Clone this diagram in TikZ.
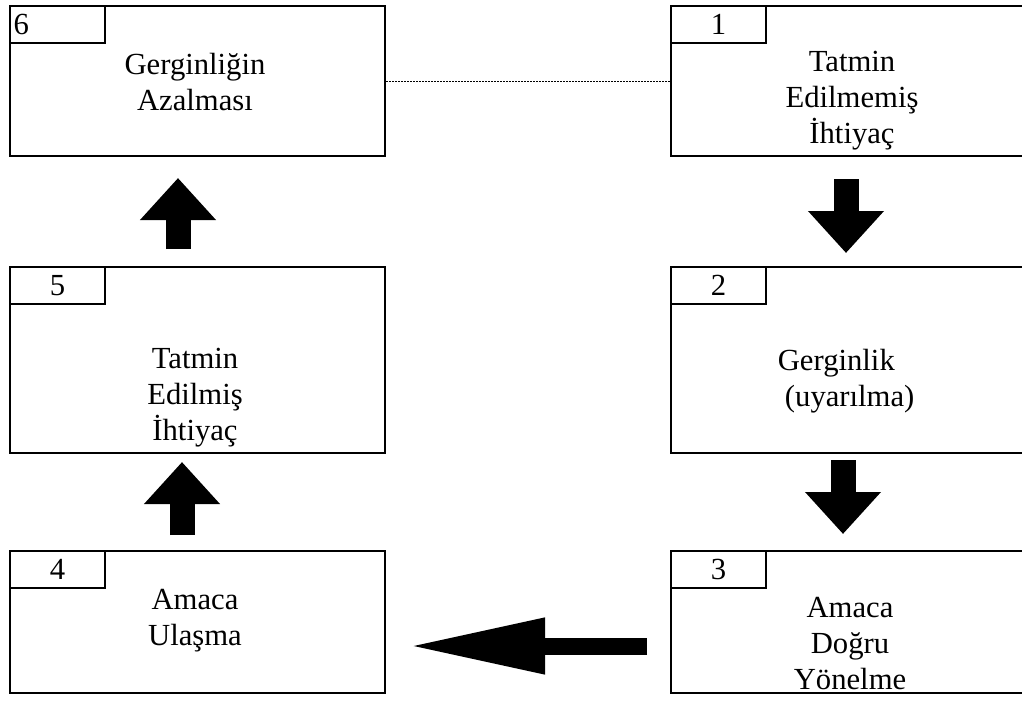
\documentclass[tikz,border=0pt]{standalone}
\usepackage{fontspec}
\setmainfont{Liberation Serif}
\usetikzlibrary{arrows.meta}

\tikzset{
  box/.style={draw, line width=1.6pt, anchor=north west, minimum width=281.25pt, inner sep=0pt},
  tab/.style={draw, line width=1.6pt, anchor=north west, minimum width=71.25pt, minimum height=27.75pt, inner sep=0pt},
  txt/.style={align=center, font=\fontsize{23pt}{27pt}\selectfont},
  blockarrow/.style n args={3}{line width=#1, -{Triangle[length=#2, width=#3]}}
}

\begin{document}
\begin{tikzpicture}[x=0.75pt, y=-0.75pt]
                \useasboundingbox (0,0) rectangle (1022,704);
                \clip (0,0) rectangle (1022,704);

                % Left column of boxes
                \node[box, minimum height=112.5pt] (b6) at (9,5) {};
                \node[box, minimum height=139.5pt] (b5) at (9,266) {};
                \node[box, minimum height=106.5pt] (b4) at (9,550) {};

                % Right column of boxes (cut by the page edge)
                \node[box, minimum width=277.5pt, minimum height=112.5pt] (b1) at (670,5) {};
                \node[box, minimum width=277.5pt, minimum height=139.5pt] (b2) at (670,266) {};
                \node[box, minimum width=277.5pt, minimum height=106.5pt] (b3) at (670,550) {};

                % Number tabs
                \node[tab, txt, text width=66pt, align=left, inner xsep=2.6pt] (n6) at (b6.north west) {6};
                \node[tab, txt] (n5) at (b5.north west) {5};
                \node[tab, txt] (n4) at (b4.north west) {4};
                \node[tab, txt] (n1) at (b1.north west) {1};
                \node[tab, txt] (n2) at (b2.north west) {2};
                \node[tab, txt] (n3) at (b3.north west) {3};

                % Box texts
                \node[txt] (t6) at (195,82) {Gerginliğin\\Azalması};
                \node[txt] (t1) at (852,101) {Tatmin\\Edilmemiş\\İhtiyaç};
                \node[txt] (t2) at (843,381) {Gerginlik\hspace*{10pt}\\\hspace*{10pt}(uyarılma)};
                \node[txt] (t3) at (850,644) {Amaca\\Doğru\\Yönelme};
                \node[txt] (t4) at (195,621) {Amaca\\Ulaşma};
                \node[txt] (t5) at (195,398) {Tatmin\\Edilmiş\\İhtiyaç};

                % Dotted link between 6 and 1
                \draw[line width=0.8pt, dash pattern=on 1.5pt off 0.75pt] (b6.east) -- (b1.west);

                % Block arrow ends
                \coordinate (a12s) at (846,179);
                \coordinate (a12e) at (846,253);
                \coordinate (a23s) at (843,460);
                \coordinate (a23e) at (843,534);
                \coordinate (a34s) at (647,646);
                \coordinate (a34e) at (408,646);
                \coordinate (a45s) at (182,535);
                \coordinate (a45e) at (182,462);
                \coordinate (a56s) at (178,249);
                \coordinate (a56e) at (178,178);

                % Block arrows
                \draw[blockarrow={18.75pt}{31.5pt}{55pt}] (a12s) -- (a12e);
                \draw[blockarrow={18.75pt}{31.5pt}{55pt}] (a23s) -- (a23e);
                \draw[blockarrow={12.75pt}{102.75pt}{39pt}] (a34s) -- (a34e);
                \draw[blockarrow={18.75pt}{31.5pt}{55pt}] (a45s) -- (a45e);
                \draw[blockarrow={18.75pt}{31.5pt}{55pt}] (a56s) -- (a56e);
            \end{tikzpicture}
\end{document}
